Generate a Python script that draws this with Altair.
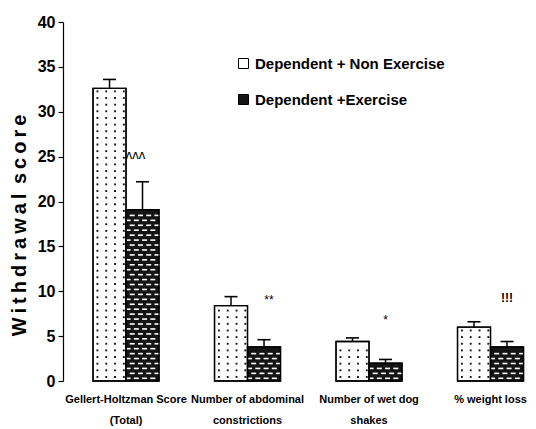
import altair as alt
import pandas as pd

categories = ["Gellert-Holtzman Score\n(Total)", "Number of abdominal\nconstrictions",
              "Number of wet dog\nshakes", "% weight loss"]
groups = ["Dependent + Non Exercise", "Dependent +Exercise"]
non_ex = [32.6, 8.4, 4.4, 6.0]
non_ex_err = [1.0, 1.0, 0.4, 0.6]
ex = [19.1, 3.8, 2.0, 3.8]
ex_err = [3.1, 0.8, 0.4, 0.6]
sig_marks = ["ʌʌʌ", "**", "*", "!!!"]
sig_y = [25.2, 9.0, 6.8, 9.2]

rows = []
for i, c in enumerate(categories):
    rows.append({"cat": c, "grp": groups[0], "gi": 0, "value": non_ex[i], "err": non_ex_err[i]})
    rows.append({"cat": c, "grp": groups[1], "gi": 1, "value": ex[i], "err": ex_err[i]})
df = pd.DataFrame(rows)
df["top"] = df["value"] + df["err"]
sig = pd.DataFrame({"cat": categories, "grp": groups[1], "txt": sig_marks, "y": sig_y})

FONT = "Liberation Sans"
TS = "\u2009"
ytitle = (TS.join("Withdrawal") + " " + TS + TS.join("score"))

xscale = alt.Scale(domain=categories, paddingInner=0.4568, paddingOuter=0.142, align=0.87)
xenc = alt.X("cat:N", scale=xscale, sort=categories,
             axis=alt.Axis(title=None, domain=False, ticks=False, labelAngle=0,
                           labelFont=FONT, labelFontSize=11, labelFontWeight="bold",
                           labelColor="black", labelPadding=12, labelLineHeight=21,
                           labelBaseline="top", labelLimit=300,
                           labelExpr="split(datum.label, '\\n')"))
yscale = alt.Scale(domain=[0, 40], nice=False)
yenc_axis = alt.Axis(values=list(range(0, 41, 5)), grid=False, domainColor="black",
                     domainWidth=1.2, tickColor="black", tickSize=5, tickWidth=1.2,
                     labelFont=FONT, labelFontSize=16, labelFontWeight="bold",
                     labelColor="black", labelPadding=3,
                     title=ytitle, titleFont=FONT,
                     titleFontSize=20, titleFontWeight="bold", titleColor="black",
                     titleX=-44, titleY=203, titleBaseline="middle", titleAlign="center",
                     titleAngle=270)
grp_off = alt.XOffset("grp:N", sort=groups, scale=alt.Scale(domain=groups, paddingInner=0, paddingOuter=0))
sub_off = alt.XOffset("col:O", scale=alt.Scale(domain=list(range(16)), paddingInner=0, paddingOuter=0))
xplain = alt.X("cat:N", scale=xscale, sort=categories)

base = alt.Chart(df)

bars = base.mark_bar(stroke="black", strokeWidth=1.3).encode(
    x=xenc,
    xOffset=grp_off,
    y=alt.Y("value:Q", scale=yscale, axis=yenc_axis),
    color=alt.Color("grp:N", sort=groups,
                    scale=alt.Scale(domain=groups, range=["white", "#141414"]),
                    legend=alt.Legend(title=None, orient="none", legendX=173, legendY=34,
                                      symbolType="square", symbolSize=100,
                                      symbolStrokeColor="black", symbolStrokeWidth=1,
                                      labelFont=FONT, labelFontSize=15, labelFontWeight="bold",
                                      labelColor="black", labelOffset=4, rowPadding=20,
                                      labelLimit=400, padding=0)),
)

dots = base.transform_filter("datum.gi == 0").transform_calculate(
    row="sequence(0.45, datum.value - 0.3, 0.74)"
).transform_flatten(["row"]).transform_calculate(
    col="[1, 3, 5, 7]"
).transform_flatten(["col"]).mark_square(size=3.5, color="#111", opacity=1).encode(
    x=xplain,
    xOffset=sub_off,
    y=alt.Y("row:Q", scale=yscale),
)

dashes = base.transform_filter("datum.gi == 1").transform_calculate(
    row="sequence(0.3, datum.value - 0.25, 0.55)"
).transform_flatten(["row"]).transform_calculate(
    col="round((datum.row - 0.3) / 0.55) % 2 == 0 ? [8, 10, 12, 14] : [9, 11, 13, 15]"
).transform_flatten(["col"]).mark_tick(color="white", size=5, thickness=1.6,
                                       orient="horizontal", opacity=1).encode(
    x=xplain,
    xOffset=sub_off,
    y=alt.Y("row:Q", scale=yscale),
)

outline = base.mark_bar(fillOpacity=0, stroke="black", strokeWidth=1.3).encode(
    x=xplain,
    xOffset=grp_off,
    y=alt.Y("value:Q", scale=yscale),
)

err_rule = base.mark_rule(color="black", strokeWidth=1.5).encode(
    x=xplain,
    xOffset=grp_off,
    y=alt.Y("value:Q", scale=yscale),
    y2="top:Q",
)
caps = base.mark_tick(color="black", size=13, thickness=1.6, orient="horizontal", opacity=1).encode(
    x=xplain,
    xOffset=grp_off,
    y=alt.Y("top:Q", scale=yscale),
)

# per-annotation horizontal nudges (relative to the Exercise bar centre)
sig_dx = {0: -23.5, 1: -11.5, 2: -16.5, 3: -16.5}
sig_style = {0: dict(fontSize=13, fontWeight="normal"),
             1: dict(fontSize=12, fontWeight="normal"),
             2: dict(fontSize=12, fontWeight="normal"),
             3: dict(fontSize=12, fontWeight="bold")}
sig_layers = []
for i in range(len(categories)):
    sig_layers.append(
        alt.Chart(sig).transform_filter(alt.datum.txt == sig_marks[i]).mark_text(
            font=FONT, color="black", baseline="middle", dx=sig_dx[i], **sig_style[i]
        ).encode(
            x=xplain,
            xOffset=grp_off,
            y=alt.Y("y:Q", scale=yscale),
            text="txt:N",
        )
    )

chart = alt.layer(bars, dots, dashes, outline, err_rule, caps, *sig_layers).resolve_scale(
    xOffset="independent"
).properties(
    width=465, height=359,
    autosize=alt.AutoSizeParams(type="none"),
    padding={"left": 55, "top": 14, "right": 0, "bottom": 48},
).configure_view(stroke=None)

chart.save("out.html", embed_options={"renderer": "svg", "actions": False})
